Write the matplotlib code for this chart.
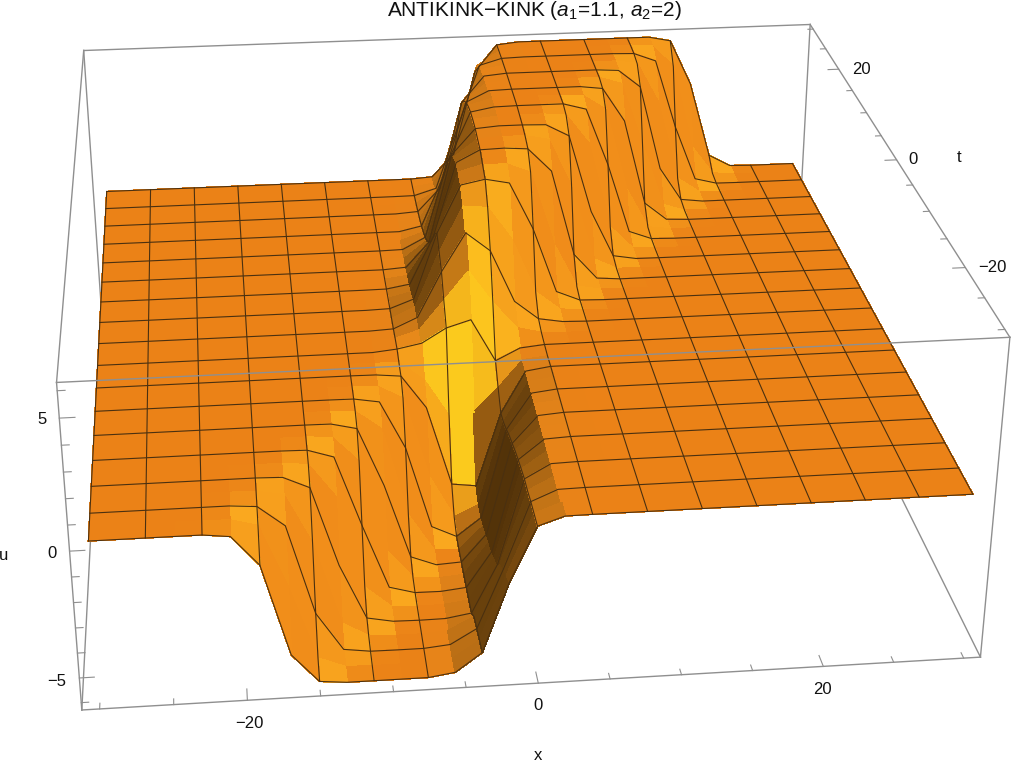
import matplotlib
matplotlib.use('Agg')
import matplotlib.pyplot as plt
import numpy as np

plt.rcParams['font.family'] = ['Liberation Sans', 'DejaVu Sans']
plt.rcParams['mathtext.fontset'] = 'custom'
plt.rcParams['mathtext.rm'] = 'Liberation Sans'
plt.rcParams['mathtext.it'] = 'Liberation Sans:italic'

W, H = 1012, 768
BOX = 31.2
ZBOX = 6.3

# grid nodes: every second node carries a mesh line
x_nodes = [-30, -28.125, -26.25, -24.375, -22.5, -20.625, -18.75, -16.875, -15, -13.125, -11.25,
           -9.375, -7.5, -5.625, -3.75, -1.875, 0, 1.875, 3.75, 5.625, 7.5, 9.375, 11.25,
           13.125, 15, 16.875, 18.75, 20.625, 22.5, 24.375, 26.25, 28.125, 30]
t_nodes = [-30, -28.125, -26.25, -24.375, -22.5, -20.625, -18.75, -16.875, -15, -13.125, -11.25,
           -9.375, -7.5, -5.625, -3.75, -1.875, 0, 1.875, 3.75, 5.625, 7.5, 9.375, 11.25,
           13.125, 15, 16.875, 18.75, 20.625, 22.5, 24.375, 26.25, 28.125, 30]

# u, one row per t node
u_values = [
    [0] * 5 + [-.12, -1.3, -4.95, -6.1, -6.2, -6.2, -6.2, -6.2, -6.05, -5.3, -2.5, -.35, -.01] + [0] * 15,
    [0] * 5 + [-.02, -.3, -2.8, -5.75, -6.17, -6.2, -6.2, -6.2, -6.08, -5.4, -2.8, -.4, -.02] + [0] * 15,
    [0] * 6 + [-.08, -.9, -4.5, -6.05, -6.19, -6.2, -6.2, -6.1, -5.5, -3.1, -.45, -.02] + [0] * 15,
    [0] * 6 + [-.02, -.2, -2.2, -5.55, -6.15, -6.2, -6.2, -6.12, -5.6, -3.4, -.55, -.03] + [0] * 15,
    [0] * 7 + [-.03, -.5, -3.72, -5.98, -6.18, -6.2, -6.19, -6.02, -4.03, -.59, -.03] + [0] * 15,
    [0] * 8 + [-.1, -1.46, -5.27, -6.14, -6.2, -6.19, -6.06, -4.28, -.71, -.04] + [0] * 15,
    [0] * 8 + [-.02, -.35, -3.22, -5.89, -6.18, -6.19, -6.08, -4.6, -.84, -.05] + [0] * 15,
    [0] * 9 + [-.07, -1.1, -4.9, -6.11, -6.19, -6.1, -4.77, -.99, -.06] + [0] * 15,
    [0] * 9 + [-.01, -.25, -2.67, -5.77, -6.17, -6.11, -4.96, -1.18, -.08] + [0] * 15,
    [0] * 10 + [-.05, -.81, -4.53, -6.08, -6.13, -5.15, -1.36, -.09] + [0] * 15,
    [0] * 10 + [-.01, -.18, -2.17, -5.61, -6.1, -5.33, -1.6, -.12] + [0] * 15,
    [0] * 11 + [-.03, -.57, -3.96, -5.8, -5.3, -1.8, -.13] + [0] * 15,
    [0] * 11 + [-.01, -.11, -1.5, -4.87, -5, -1.9, -.15] + [0] * 15,
    [0] * 12 + [-.03, -.8, -2.4, -2.3, -1.3, -.15, -.03] + [0] * 14,
    [0] * 12 + [.1, .3, .9, 1.2, -.6, -.1] + [0] * 15,
    [0] * 12 + [.08, .4, 1.6, 2.8, 1.4, .3, .05] + [0] * 14,
    [0] * 12 + [.05, .5, 2.4, 4, 3.2, 1, .2, .03] + [0] * 13,
    [0] * 12 + [.04, .5, 2.8, 4.7, 4.6, 3.2, .9, .12, .02] + [0] * 12,
    [0] * 12 + [.03, .4, 3.2, 5.2, 5.4, 5.2, 3.2, .45, .03] + [0] * 12,
    [0] * 12 + [.02, .27, 2.77, 5.34, 5.62, 5.6, 5.2, 2.1, .19, .01] + [0] * 11,
    [0] * 12 + [.01, .18, 2.18, 5.37, 5.87, 5.9, 5.83, 4.84, 1.18, .08] + [0] * 11,
    [0] * 13 + [.12, 1.6, 5.2, 5.94, 6, 6, 5.8, 3.7, .5, .03] + [0] * 10,
    [0] * 13 + [.07, 1.15, 4.94, 6.02, 6.1, 6.1, 6.07, 5.55, 2.2, .18, .01] + [0] * 9,
    [0] * 13 + [.03, .79, 4.43, 6.03, 6.13, 6.15, 6.15, 6.06, 4.8, 1.05, .07] + [0] * 9,
    [0] * 13 + [.02, .53, 3.84, 6, 6.18, 6.2, 6.2, 6.2, 5.93, 3.44, .4, .03] + [0] * 8,
    [0] * 14 + [.34, 3.16, 5.89, 6.17, 6.2, 6.2, 6.2, 6.15, 5.52, 1.92, .14, .01] + [0] * 7,
    [0] * 14 + [.22, 2.45, 5.7, 6.17, 6.2, 6.2, 6.2, 6.2, 6.08, 4.6, .84, .05] + [0] * 7,
    [0] * 14 + [.12, 1.74, 5.4, 6.13, 6.2, 6.2, 6.2, 6.2, 6.2, 5.89, 3.1, .31, .01] + [0] * 6,
    [0] * 14 + [.07, 1.1, 4.96, 6.11, 6.2, 6.2, 6.2, 6.2, 6.2, 6.14, 5.36, 1.6, .12] + [0] * 6,
    [0] * 14 + [.03, .62, 4.15, 6.03, 6.18, 6.2, 6.2, 6.2, 6.2, 6.2, 6.05, 4.28, .71, .04] + [0] * 5,
    [0] * 14 + [.01, .31, 3.1, 5.89, 6.17, 6.2, 6.2, 6.2, 6.2, 6.2, 6.17, 5.8, 2.73, .26, .01] + [0] * 4,
    [0] * 15 + [.15, 1.98, 5.52, 6.14, 6.2, 6.2, 6.2, 6.2, 6.2, 6.2, 6.13, 5.15, 1.36, .09] + [0] * 4,
    [0] * 15 + [.07, 1.1, 4.9, 6.1, 6.2, 6.2, 6.2, 6.2, 6.2, 6.2, 6.2, 6, 3.97, .56, .03] + [0] * 3,
]

x_ticks = [-30, -25, -20, -15, -10, -5, 0, 5, 10, 15, 20, 25, 30]
t_ticks = [-30, -25, -20, -15, -10, -5, 0, 5, 10, 15, 20, 25, 30]
u_ticks = [-6, -5, -4, -3, -2, -1, 0, 1, 2, 3, 4, 5, 6]
major_xt = [-20, 0, 20]
major_u = [-5, 0, 5]

x = np.array(x_nodes, dtype=float)
t = np.array(t_nodes, dtype=float)
u = np.array(u_values, dtype=float)
X, T = np.meshgrid(x, t)

fig = plt.figure(figsize=(W / 100, H / 100), dpi=100)
# camera found by fitting the box corners of the picture
ax = fig.add_axes([-29.39 / W, ((H - W) / 2 + 44.77) / H, 1, W / H], projection='3d')
ax.computed_zorder = False
ax.set_xlim(-BOX, BOX)
ax.set_ylim(-BOX, BOX)
ax.set_zlim(-ZBOX, ZBOX)
ax.view_init(25.6507, -96.096, -0.0091)
ax.set_proj_type('persp', focal_length=0.4974)
ax.set_box_aspect((1, 1, 0.3991), zoom=1.1387)
ax.set_axis_off()


def soften(a):
    # blur the shading so the facets do not show
    kernel = np.array([1, 2, 1]) / 4
    for axis in (0, 1):
        pad = [(1, 1) if i == axis else (0, 0) for i in range(2)]
        a = np.apply_along_axis(lambda v: np.convolve(v, kernel, mode='valid'), axis, np.pad(a, pad, mode='edge'))
    return a


# facet colours from the slope of each facet
du_dx = 0.5 * (np.diff(u, axis=1)[:-1, :] + np.diff(u, axis=1)[1:, :]) / np.diff(x)[None, :]
du_dt = 0.5 * (np.diff(u, axis=0)[:, :-1] + np.diff(u, axis=0)[:, 1:]) / np.diff(t)[:, None]
s = soften(-du_dx)
dt = soften(du_dt)
# the shadowed slope fades out towards the far end of the ridge
t_mid = 0.5 * (t[:-1] + t[1:])
fade = np.interp(t_mid, [-30, -20, 8, 20], [.8, 1, 1, .45])[:, None]
s = np.where(s < 0, s * fade, s)
stops = [-1.5, -.9, -.5, -.15, 0, .3, 1, 2]
reds = [.28, .42, .70, .90, .92, .98, .94, .97]
greens = [.17, .26, .42, .52, .51, .66, .55, .60]
blues = [.03, .05, .08, .10, .09, .12, .10, .10]
cols = np.dstack([np.interp(s, stops, reds), np.interp(s, stops, greens), np.interp(s, stops, blues)])
g = 0.8 * np.clip((dt - 0.8 * np.maximum(s, 0) - 0.1) / 0.7, 0, 1)[..., None]
g = g * np.clip(1 + s[..., None] / 0.5, 0, 1)
cols = cols * (1 - g) + np.array([1, .86, .12]) * g
cols = np.dstack([cols, np.ones(s.shape)])

BOX_COLOR = '#8f8f8f'
MESH_COLOR = '#4a3010'


def box_line(a, b, zorder):
    ax.plot([a[0], b[0]], [a[1], b[1]], [a[2], b[2]], color=BOX_COLOR, lw=1.0, zorder=zorder, clip_on=False)


# back and bottom edges go behind the surface
box_line((-BOX, BOX, ZBOX), (BOX, BOX, ZBOX), 1)
box_line((-BOX, BOX, ZBOX), (-BOX, BOX, -ZBOX), 1)
box_line((BOX, BOX, ZBOX), (BOX, BOX, -ZBOX), 1)
box_line((-BOX, BOX, -ZBOX), (BOX, BOX, -ZBOX), 1)
box_line((-BOX, BOX, -ZBOX), (-BOX, -BOX, -ZBOX), 1)
box_line((BOX, BOX, -ZBOX), (BOX, -BOX, -ZBOX), 1)

surf = ax.plot_surface(X, T, u, facecolors=cols, rstride=1, cstride=1, shade=False,
                       linewidth=0.6, antialiased=False, zorder=2)
surf.set_edgecolor(cols.reshape(-1, 4))

for j in range(0, len(t), 2):
    ax.plot(x, t[j] * np.ones_like(x), u[j], color=MESH_COLOR, lw=0.8, zorder=3, clip_on=False)
for i in range(0, len(x), 2):
    ax.plot(x[i] * np.ones_like(t), t, u[:, i], color=MESH_COLOR, lw=0.8, zorder=3, clip_on=False)

# near edges of the box
box_line((-BOX, -BOX, ZBOX), (BOX, -BOX, ZBOX), 4)
box_line((-BOX, -BOX, ZBOX), (-BOX, BOX, ZBOX), 4)
box_line((BOX, -BOX, ZBOX), (BOX, BOX, ZBOX), 4)
box_line((-BOX, -BOX, ZBOX), (-BOX, -BOX, -ZBOX), 4)
box_line((BOX, -BOX, ZBOX), (BOX, -BOX, -ZBOX), 4)
box_line((-BOX, -BOX, -ZBOX), (BOX, -BOX, -ZBOX), 4)

for v in x_ticks:
    L = 1.4 if v in major_xt else 0.7
    ax.plot([v, v], [-BOX, -BOX + L], [-ZBOX, -ZBOX], color=BOX_COLOR, lw=0.8, zorder=4, clip_on=False)
for v in t_ticks:
    L = 0.9 if v in major_xt else 0.45
    ax.plot([BOX, BOX - L], [v, v], [ZBOX, ZBOX], color=BOX_COLOR, lw=0.8, zorder=4, clip_on=False)
for v in u_ticks:
    L = 1.0 if v in major_u else 0.5
    ax.plot([-BOX, -BOX + L], [-BOX, -BOX], [v, v], color=BOX_COLOR, lw=0.8, zorder=4, clip_on=False)


def label(px, py, text, size=12):
    fig.text(px / W, 1 - py / H, text, ha='center', va='center', fontsize=size, color='#111111')


label(534, 11, r'ANTIKINK$-$KINK ($a_1$=1.1, $a_2$=2)', 15)
label(249, 724, '\u221220')
label(538, 706, '0')
label(822, 690, '20')
label(538, 755, 'x')
label(861, 69, '20')
label(913, 159, '0')
label(992, 267, '\u221220')
label(959, 157, 't')
label(42, 419, '5')
label(52, 553, '0')
label(57, 681, '\u22125')
label(4, 556, 'u')

fig.savefig('out.png', dpi=100)
